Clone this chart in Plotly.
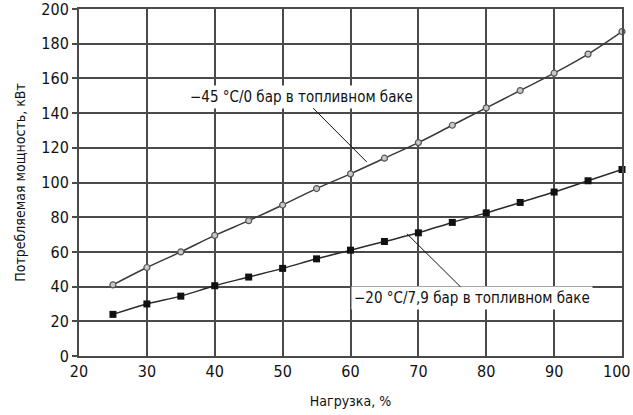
import plotly.graph_objects as go

load = [25, 30, 35, 40, 45, 50, 55, 60, 65, 70, 75, 80, 85, 90, 95, 100]
power_m45 = [41, 51, 60, 69.5, 78, 87, 96.5, 105, 114, 123, 133, 143, 153, 163, 174, 187]
power_m20 = [24, 30, 34.5, 40.5, 45.5, 50.5, 56, 61, 66, 71, 77, 82.5, 88.5, 94.5, 101, 107.5]

label_m45 = "−45 °C/0 бар в топливном баке"
label_m20 = "−20 °C/7,9 бар в топливном баке"
x_title = "Нагрузка, %"
y_title = "Потребляемая мощность, кВт"
x_ticks = [20, 30, 40, 50, 60, 70, 80, 90, 100]
y_ticks = [0, 20, 40, 60, 80, 100, 120, 140, 160, 180, 200]

FONT = "DejaVu Sans Condensed, Liberation Sans Narrow, Arial Narrow, Liberation Sans, Arial, sans-serif"
GRID = "#4a4a4a"
TXT = "#111111"

# last x tick label is drawn separately so it is nudged inside the page edge
x_tick_text = [str(v) for v in x_ticks[:-1]] + [""]

fig = go.Figure()
fig.add_trace(go.Scatter(
    x=load, y=power_m45, mode="lines+markers", line=dict(color="#3a3a3a", width=1.5, shape="spline"),
    marker=dict(symbol="circle", size=6, color="#c8c8c8", line=dict(color="#555555", width=1.2)),
    showlegend=False, cliponaxis=False, hoverinfo="skip"))
fig.add_trace(go.Scatter(
    x=load, y=power_m20, mode="lines+markers", line=dict(color="#2a2a2a", width=1.5, shape="spline"),
    marker=dict(symbol="square", size=7, color="#111111", line=dict(color="#111111", width=0)),
    showlegend=False, cliponaxis=False, hoverinfo="skip"))

fig.add_annotation(x=62.4, y=111.8, ax=52.8, ay=149.5, axref="x", ayref="y",
                   text=label_m45, showarrow=True, arrowhead=0, arrowwidth=1, arrowcolor=TXT,
                   bgcolor="white", borderpad=2, font=dict(family=FONT, size=15, color=TXT))
fig.add_annotation(x=68.3, y=70.5, ax=77.9, ay=33.3, axref="x", ayref="y",
                   text=label_m20, showarrow=True, arrowhead=0, arrowwidth=1, arrowcolor=TXT,
                   bgcolor="white", borderpad=2, font=dict(family=FONT, size=15, color=TXT))
fig.add_annotation(x=x_ticks[-1], y=y_ticks[0], text=str(x_ticks[-1]), showarrow=False,
                   xanchor="right", yanchor="middle", xshift=10, yshift=-15,
                   font=dict(family=FONT, size=16, color=TXT))

fig.update_xaxes(range=[20, 100], tickvals=x_ticks, ticktext=x_tick_text, showgrid=True,
                 gridcolor=GRID, gridwidth=2,
                 showline=True, linecolor=GRID, linewidth=2, mirror=True, ticks="", zeroline=False,
                 automargin=False, ticklabeloverflow="allow",
                 title=dict(text=x_title, font=dict(family=FONT, size=14, color=TXT), standoff=16),
                 tickfont=dict(family=FONT, size=16, color=TXT))
fig.update_yaxes(range=[0, 200], tickvals=y_ticks, showgrid=True, gridcolor=GRID, gridwidth=2,
                 showline=True, linecolor=GRID, linewidth=2, mirror=True, ticks="outside", ticklen=5,
                 tickcolor=GRID, tickwidth=2, zeroline=False, automargin=False, ticklabeloverflow="allow",
                 title=dict(text=y_title, font=dict(family=FONT, size=14, color=TXT), standoff=12),
                 tickfont=dict(family=FONT, size=16, color=TXT))

fig.update_layout(width=633, height=415, margin=dict(l=79, r=11, t=9, b=59, autoexpand=False),
                  plot_bgcolor="white", paper_bgcolor="white", font=dict(family=FONT),
                  hovermode=False)
fig.write_html("out.html", config={"displayModeBar": False},
               post_script="document.body.style.margin='0';document.body.style.overflow='hidden';")
